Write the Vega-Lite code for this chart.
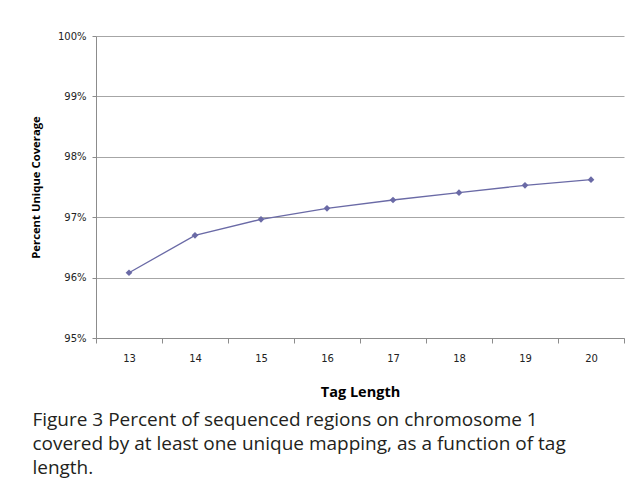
{
  "$schema": "https://vega.github.io/schema/vega-lite/v6.json",
  "width": 528,
  "height": 302,
  "padding": {"left": 30, "top": 31, "right": 8, "bottom": 10},
  "background": "white",
  "title": {
    "text": ["Figure 3 Percent of sequenced regions on chromosome 1", "covered by at least one unique mapping, as a function of tag", "length."],
    "orient": "bottom",
    "anchor": "start",
    "frame": "bounds",
    "font": "Open Sans",
    "fontSize": 19,
    "fontWeight": "normal",
    "lineHeight": 24,
    "color": "#231f20",
    "offset": 12,
    "dx": 2
  },
  "data": {
    "values": [
      {"tag": 13, "coverage": 0.9608},
      {"tag": 14, "coverage": 0.9670},
      {"tag": 15, "coverage": 0.96965},
      {"tag": 16, "coverage": 0.97147},
      {"tag": 17, "coverage": 0.97285},
      {"tag": 18, "coverage": 0.97406},
      {"tag": 19, "coverage": 0.97528},
      {"tag": 20, "coverage": 0.97621}
    ]
  },
  "encoding": {
    "x": {
      "field": "tag",
      "type": "ordinal",
      "scale": {"type": "band", "paddingInner": 0, "paddingOuter": 0},
      "axis": {
        "title": "Tag Length",
        "labelAngle": 0,
        "tickBand": "extent",
        "grid": false,
        "tickSize": 5,
        "labelPadding": 10,
        "titlePadding": 22,
        "domainColor": "#8c8c8c",
        "tickColor": "#8c8c8c",
        "labelFont": "DejaVu Sans",
        "labelFontSize": 10,
        "labelColor": "#222222",
        "titleFont": "Open Sans",
        "titleFontSize": 14.5,
        "titleFontWeight": "bold",
        "titleColor": "#000000"
      }
    },
    "y": {
      "field": "coverage",
      "type": "quantitative",
      "scale": {"domain": [0.95, 1.0], "nice": false, "zero": false},
      "axis": {
        "title": "Percent Unique Coverage",
        "values": [0.95, 0.96, 0.97, 0.98, 0.99, 1.0],
        "format": ".0%",
        "grid": true,
        "gridColor": "#a6a6a6",
        "gridWidth": 1,
        "tickSize": 4,
        "labelPadding": 6,
        "titlePadding": 16,
        "domainColor": "#8c8c8c",
        "tickColor": "#8c8c8c",
        "labelFont": "DejaVu Sans",
        "labelFontSize": 10,
        "labelColor": "#222222",
        "titleFont": "Open Sans",
        "titleFontSize": 11.3,
        "titleFontWeight": "bold",
        "titleColor": "#000000"
      }
    }
  },
  "layer": [
    {"mark": {"type": "line", "color": "#6a6aa6", "strokeWidth": 1.3}},
    {"mark": {"type": "point", "shape": "diamond", "filled": true, "size": 45, "color": "#6a6aa6", "opacity": 1}}
  ],
  "config": {
    "view": {"stroke": null}
  }
}
